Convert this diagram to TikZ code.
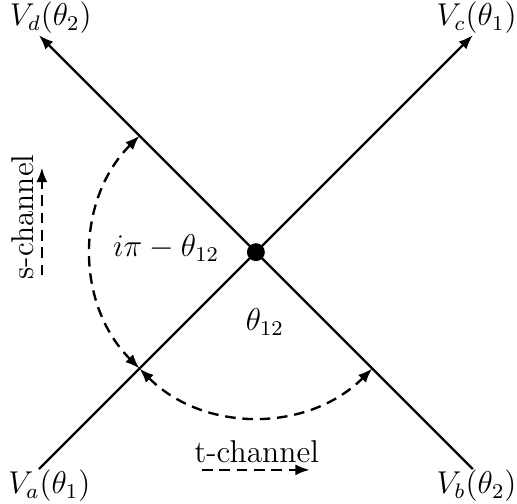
\documentclass[tikz,border=0pt,12pt]{standalone}
\usepackage{amsmath}
\usepackage{amssymb}
\usetikzlibrary{arrows.meta}

\begin{document}
\begin{tikzpicture}[x=1cm, y=1cm,
        leg/.style={line width=0.9pt, -{Latex[length=5.5pt, width=4.2pt]}},
        channel/.style={line width=0.9pt, dash pattern=on 4pt off 2.6pt}]
    \useasboundingbox (-3.42,-3.36) rectangle (3.49,3.37);

    \coordinate (a) at (-2.9,-2.9);
    \coordinate (b) at (2.9,-2.9);
    \coordinate (c) at (2.9,2.9);
    \coordinate (d) at (-2.9,2.9);

    \draw[leg] (a) -- (c);
    \draw[leg] (b) -- (d);

    \node[circle, fill, inner sep=0pt, minimum size=6.8pt] (vertex) at (0,0) {};

    \node (Va) at (-2.76,-3.12) {$V_a(\theta_1)$};
    \node (Vb) at (2.95,-3.12)  {$V_b(\theta_2)$};
    \node (Vc) at (2.95,3.13)   {$V_c(\theta_1)$};
    \node (Vd) at (-2.74,3.13)  {$V_d(\theta_2)$};

    \coordinate (p1) at (135:2.2);
    \coordinate (p2) at (225:2.2);
    \draw[channel, {Latex[length=5.5pt, width=4.2pt]}-{Latex[length=5.5pt, width=4.2pt]}]
        (p1) arc[start angle=135, end angle=225, radius=2.2];
    \draw[channel, {Latex[length=5.5pt, width=4.2pt]}-{Latex[length=5.5pt, width=4.2pt]}]
        (p2) arc[start angle=225, end angle=315, radius=2.2];

    \node (su) at (-1.20,0.05) {$i\pi-\theta_{12}$};
    \node (tu) at (0.12,-0.93) {$\theta_{12}$};

    \node[rotate=90] (s) at (-3.12,0.47) {s-channel};
    \coordinate (s0) at (-2.86,-0.31);
    \coordinate (s1) at (-2.86,1.13);
    \draw[channel, -{Latex[length=5.5pt, width=4.2pt]}] (s0) -- (s1);

    \node (t) at (0.01,-2.67) {t-channel};
    \coordinate (t0) at (-0.72,-2.91);
    \coordinate (t1) at (0.72,-2.91);
    \draw[channel, -{Latex[length=5.5pt, width=4.2pt]}] (t0) -- (t1);
\end{tikzpicture}
\end{document}
